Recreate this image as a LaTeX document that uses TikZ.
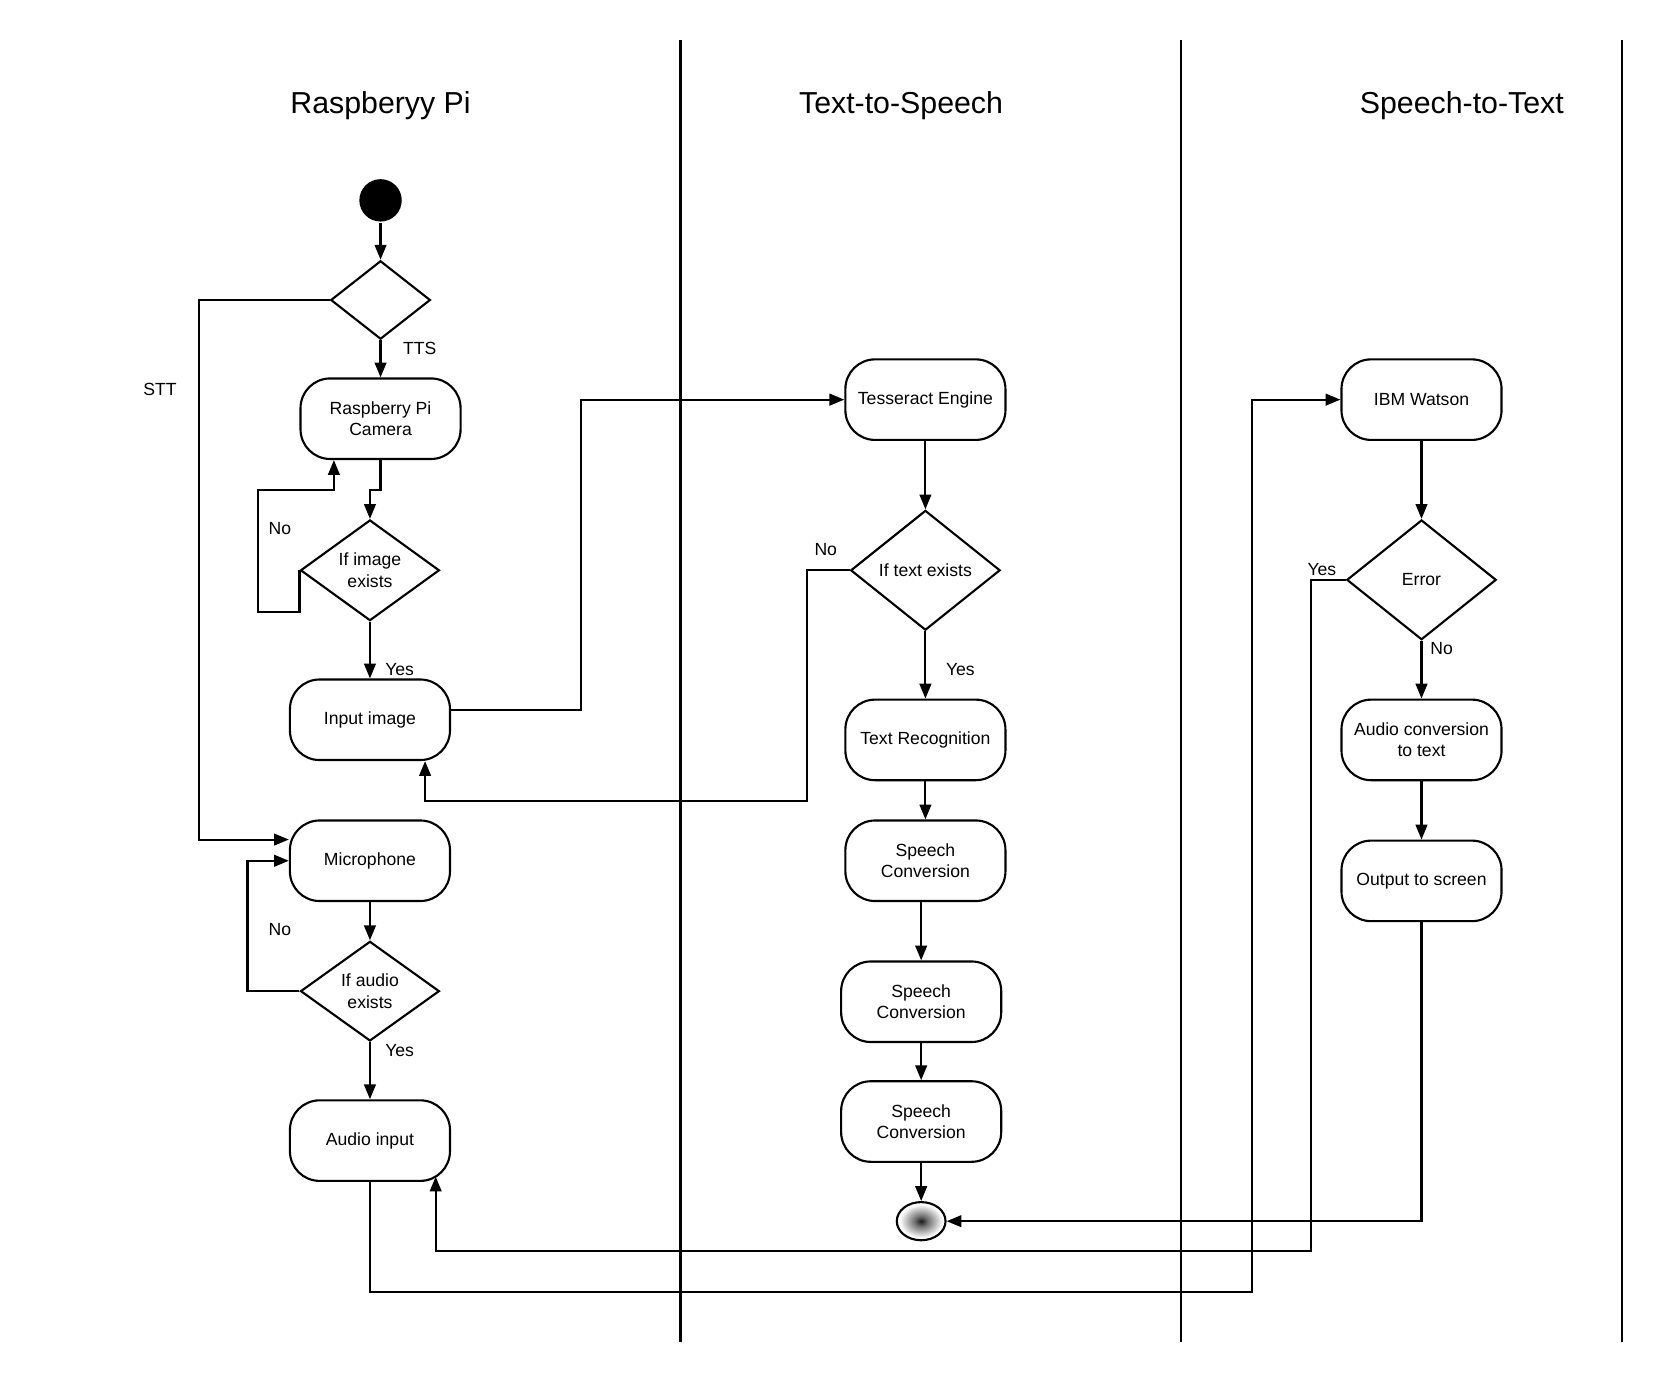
\documentclass[tikz,border=0pt]{standalone}
\usepackage{fontspec}
\setmainfont{Liberation Sans}
\usetikzlibrary{shapes.geometric,arrows.meta}
\pgfdeclareradialshading{endshade}{\pgfpoint{0bp}{0bp}}{color(0bp)=(black!90);
  color(7bp)=(black!55); color(22bp)=(white); color(50bp)=(white)}

\begin{document}
\begin{tikzpicture}[x=0.5pt,y=-0.5pt,line width=1pt,
    actbox/.style={draw,rounded corners=14pt,minimum width=75.5pt,minimum height=38pt,
      align=center,inner sep=2pt,font=\fontsize{8.3}{10}\selectfont},
    decision/.style={draw,diamond,inner sep=0pt,align=center,font=\fontsize{8.3}{10}\selectfont},
    arr/.style={-{Triangle[length=7pt,width=5.5pt]}},
    lbl/.style={font=\fontsize{8.3}{10}\selectfont},
    lanetitle/.style={font=\fontsize{14.3}{17}\selectfont}]
  \useasboundingbox (0,0) rectangle (1566,1302);
  % swimlanes
  \foreach \x in {642,1114,1530} { \draw (\x,38)--(\x,1266); }
  \node[lanetitle] (tRpi) at (359,100) {Raspberyy Pi};
  \node[lanetitle] (tTts) at (850,100) {Text-to-Speech};
  \node[lanetitle] (tStt) at (1379,100) {Speech-to-Text};
  % Raspberry Pi lane
  \node[circle,fill=black,minimum size=20pt,inner sep=0pt] (start) at (359,189) {};
  \node[decision,minimum width=47pt,minimum height=37pt] (choice) at (359,283) {};
  \node[actbox] (camera) at (359,395) {Raspberry Pi\\Camera};
  \node[decision,minimum width=65.5pt,minimum height=47.5pt] (ifimage) at (349,538) {If image\\exists};
  \node[actbox] (inimage) at (349,679) {Input image};
  \node[actbox] (micro) at (349,812) {Microphone};
  \node[decision,minimum width=65.5pt,minimum height=47pt] (ifaudio) at (349,935) {If audio\\exists};
  \node[actbox] (inaudio) at (349,1076) {Audio input};
  % Text-to-Speech lane
  \node[actbox] (tess) at (873,377) {Tesseract Engine};
  \node[decision,minimum width=70.5pt,minimum height=56.5pt] (iftext) at (873,538) {If text exists};
  \node[actbox] (textrec) at (873,698) {Text Recognition};
  \node[actbox] (speech1) at (873,812) {Speech\\Conversion};
  \node[actbox] (speech2) at (869,945) {Speech\\Conversion};
  \node[actbox] (speech3) at (869,1058) {Speech\\Conversion};
  \node[draw,ellipse,minimum width=23pt,minimum height=18pt,inner sep=0pt,
    shading=endshade] (finish) at (869,1152) {};
  % Speech-to-Text lane
  \node[actbox] (watson) at (1341,377) {IBM Watson};
  \node[decision,minimum width=70.5pt,minimum height=56.5pt] (iferror) at (1341,547) {Error};
  \node[actbox] (audiotxt) at (1341,698) {Audio conversion\\to text};
  \node[actbox] (screen) at (1341,831) {Output to screen};
  % labels
  \node[lbl] (lTTS) at (396,329) {TTS};
  \node[lbl] (lSTT) at (151,367) {STT};
  \node[lbl] (lNo1) at (264,499) {No};
  \node[lbl] (lYes1) at (377,632) {Yes};
  \node[lbl] (lNo2) at (779,518) {No};
  \node[lbl] (lYes2) at (906,632) {Yes};
  \node[lbl] (lNo3) at (264,877) {No};
  \node[lbl] (lYes3) at (377,991) {Yes};
  \node[lbl] (lYes4) at (1247,537) {Yes};
  \node[lbl] (lNo4) at (1360,612) {No};
  % connectors
  \draw[arr] (start) -- (choice);
  \draw[arr] (choice) -- (camera);
  \draw[arr] (choice.west) -- ++(-123,0) |- ([yshift=10pt]micro.west);
  \draw[arr] (camera.south) -- ++(0,28) -| (ifimage.north);
  \draw[arr] (ifimage.west) -- ++(0,39) -- ++(-39,0) |- ([xshift=-22pt,yshift=-14pt]camera.south)
    -- ([xshift=-22pt]camera.south);
  \draw[arr] (ifimage) -- (inimage);
  \draw[arr] ([yshift=4.5pt]inimage.east) -- ++(123,0) |- (tess.west);
  \draw[arr] (tess) -- (iftext);
  \draw[arr] (iftext.west) -- ++(-40,0) |- ([xshift=26pt,yshift=-19pt]inimage.south)
    -- ([xshift=26pt]inimage.south);
  \draw[arr] (iftext) -- (textrec);
  \draw[arr] (textrec) -- (speech1);
  \draw[arr] (speech2.north |- speech1.south) -- (speech2.north);
  \draw[arr] (speech2) -- (speech3);
  \draw[arr] (speech3) -- (finish);
  \draw[arr] (micro) -- (ifaudio);
  \draw[arr] (ifaudio.west) -- ++(-49,0) |- (micro.west);
  \draw[arr] (ifaudio) -- (inaudio);
  \draw[arr] (inaudio.south) -- ++(0,104) -- ++(832,0) |- (watson.west);
  \draw[arr] (watson) -- (iferror);
  \draw[arr] (iferror.west) -- ++(-33,0) -- ++(0,633) -| ([xshift=31pt,yshift=2.5pt]inaudio.south);
  \draw[arr] (iferror) -- (audiotxt);
  \draw[arr] (audiotxt) -- (screen);
  \draw[arr] (screen.south) |- (finish.east);
\end{tikzpicture}
\end{document}
